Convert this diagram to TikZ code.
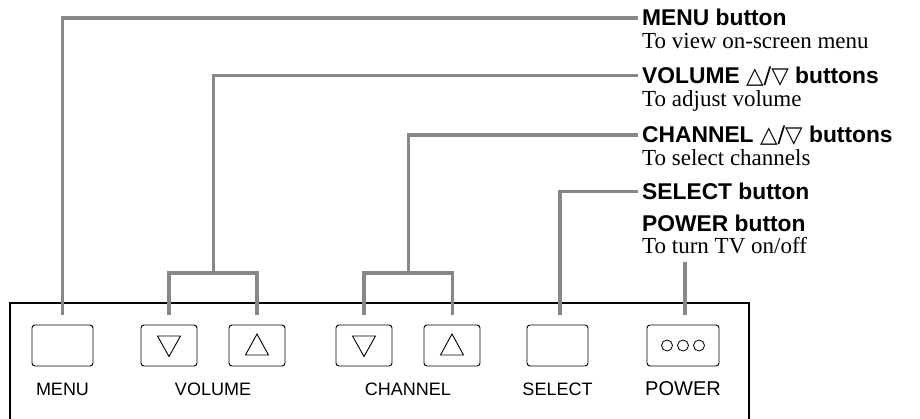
\documentclass[tikz,border=0pt]{standalone}
\usepackage{fontspec}
\setmainfont{Liberation Serif}
\setsansfont{Liberation Sans}
\newfontfamily\symf{DejaVu Sans}
\definecolor{leadgray}{RGB}{135,135,135}
\begin{document}
\begin{tikzpicture}[x=1pt,y=-1pt,
  lead/.style={draw=leadgray, line width=3.3pt},
  btn/.style={draw=black, line width=0.9pt, rounded corners=3pt, minimum height=41pt, inner sep=0pt},
  head/.style={anchor=base west, inner sep=0pt, font=\sffamily\bfseries\fontsize{22.8}{25}\selectfont},
  desc/.style={anchor=base west, inner sep=0pt, font=\rmfamily\fontsize{23}{25}\selectfont},
  btncap/.style={anchor=base, inner sep=0pt, font=\sffamily\fontsize{18}{20}\selectfont},
  sym/.style={draw=black, line width=0.9pt, line join=miter}]
\useasboundingbox (0,0) rectangle (920,419);
% panel
\draw[line width=1.3pt] (10,421) -- (10,303) -- (749,303) -- (749,421);
% buttons
\node[btn, minimum width=61pt] (menub) at (62.5,345.5) {};
\node[btn, minimum width=56pt] (voldn) at (169,345.5) {};
\node[btn, minimum width=56pt] (volup) at (257,345.5) {};
\node[btn, minimum width=56pt] (chdn) at (364,345.5) {};
\node[btn, minimum width=56pt] (chup) at (452,345.5) {};
\node[btn, minimum width=61pt] (selb) at (557.5,345.5) {};
\node[btn, minimum width=72pt] (powb) at (683,345.5) {};
% button symbols
\draw[sym, shift={(voldn.center)}] (-11.5,-9.5) -- (11.5,-9.5) -- (0,11) -- cycle;
\draw[sym, shift={(volup.center)}] (0,-11.5) -- (-11.5,9.5) -- (11.5,9.5) -- cycle;
\draw[sym, shift={(chdn.center)}] (-11.5,-9.5) -- (11.5,-9.5) -- (0,11) -- cycle;
\draw[sym, shift={(chup.center)}] (0,-11.5) -- (-11.5,9.5) -- (11.5,9.5) -- cycle;
\foreach \dx in {-16,0,16}
  \draw[black, line width=0.8pt, shift={(powb.center)}] (\dx,0) circle[radius=5.5pt];
% button captions
\node[btncap] (menuc) at (62.5,395) {MENU};
\node[btncap] (volc) at (213,395) {VOLUME};
\node[btncap] (chc) at (408,395) {CHANNEL};
\node[btncap] (selc) at (557.5,395) {SELECT};
\node[btncap, font=\sffamily\fontsize{20}{22}\selectfont] (powc) at (683,395) {POWER};
% right-hand labels
\node[head] (menuh) at (642,26) {MENU button};
\node[desc] (menud) at (642,49) {To view on-screen menu};
\node[head] (volh) at (642,83.5) {VOLUME {\symf\mdseries △/▽} buttons};
\node[desc] (vold) at (642,107) {To adjust volume};
\node[head] (chh) at (642,143) {CHANNEL {\symf\mdseries △/▽} buttons};
\node[desc] (chd) at (642,166) {To select channels};
\node[head] (selh) at (642,199.5) {SELECT button};
\node[head] (powh) at (642,231.5) {POWER button};
\node[desc] (powd) at (642,254) {To turn TV on/off};
% junctions
\coordinate (volj) at (213.5,273);
\coordinate (chj) at (408.5,273);
% leaders
\draw[lead] ([yshift=10pt]menub.north) |- ([xshift=-4pt,yshift=8pt]menuh.base west);
\draw[lead] ([yshift=10pt]voldn.north) |- (volj) -| ([yshift=10pt]volup.north);
\draw[lead] (volj) |- ([xshift=-4pt,yshift=8pt]volh.base west);
\draw[lead] ([yshift=10pt]chdn.north) |- (chj) -| ([xshift=0.5pt,yshift=10pt]chup.north);
\draw[lead] (chj) |- ([xshift=-4pt,yshift=8pt]chh.base west);
\draw[lead] ([xshift=2.5pt,yshift=10pt]selb.north) |- ([xshift=-4pt,yshift=8pt]selh.base west);
\draw[lead] ([xshift=2pt,yshift=10pt]powb.north) -- ([xshift=2pt,yshift=63pt]powb.north);
\end{tikzpicture}
\end{document}
